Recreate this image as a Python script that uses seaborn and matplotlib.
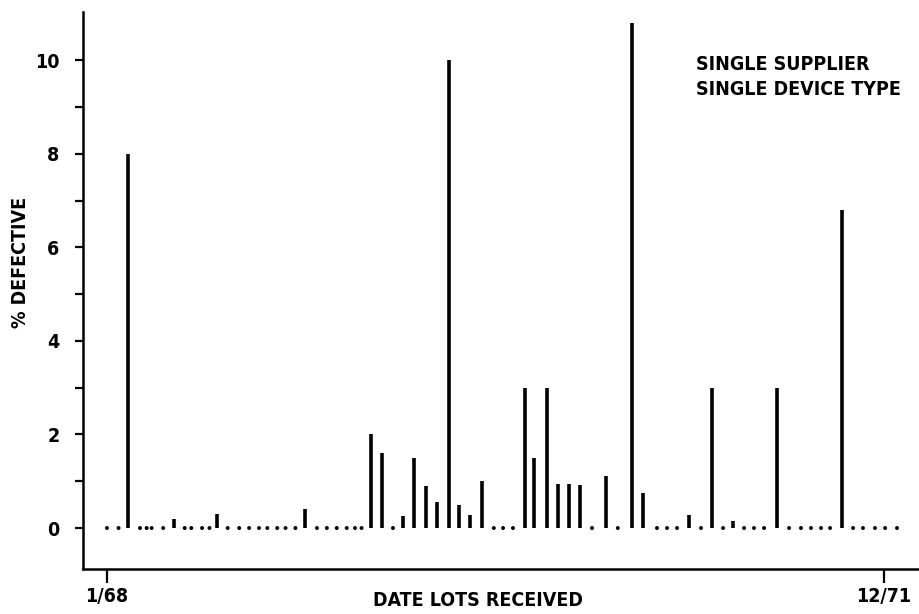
import matplotlib
matplotlib.use("Agg")
import matplotlib.pyplot as plt
import numpy as np
import pandas as pd
import seaborn as sns

# Receipt time of each lot, in months after January 1968
lot_month = [
    0.0, 0.7, 1.3, 2.0, 2.4, 2.7, 3.4, 4.05, 4.7, 5.1, 5.75, 6.2, 6.65, 7.3,
    8.0, 8.6, 9.2, 9.7, 10.3, 10.8, 11.4, 12.0, 12.7, 13.3, 13.9, 14.5, 15.0,
    15.4, 15.97, 16.64, 17.3, 17.91, 18.57, 19.3, 19.96, 20.69, 21.29, 21.96,
    22.69, 23.4, 23.96, 24.56, 25.29, 25.83, 26.62, 27.28, 27.95, 28.61, 29.34,
    30.19, 30.9, 31.76, 32.43, 33.27, 33.88, 34.48, 35.21, 35.93, 36.6, 37.27,
    37.87, 38.54, 39.14, 39.75, 40.53, 41.26, 41.98, 42.59, 43.19, 43.74,
    44.46, 45.13, 45.73, 46.46, 47.07, 47.79,
]
# Percent defective found in each lot
pct_defective = [
    0, 0, 8.0, 0, 0, 0, 0, 0.2, 0, 0, 0, 0, 0.3, 0,
    0, 0, 0, 0, 0, 0, 0, 0.4, 0, 0, 0, 0, 0,
    0, 2.0, 1.6, 0, 0.25, 1.5, 0.9, 0.55, 10.0, 0.5, 0.28,
    1.0, 0, 0, 0, 3.0, 1.5, 3.0, 0.95, 0.95, 0.92, 0,
    1.12, 0, 10.8, 0.75, 0, 0, 0, 0.27, 0, 3.0, 0,
    0.15, 0, 0, 0, 3.0, 0, 0, 0, 0, 0,
    6.8, 0, 0, 0, 0, 0,
]
y_ticks = [0, 2, 4, 6, 8, 10]
y_minor = [1, 3, 5, 7, 9]
x_tick_pos = [0, 47]
x_tick_labels = ["1/68", "12/71"]

sns.set_theme(style="ticks")
plt.rcParams["font.family"] = ["DejaVu Sans"]
plt.rcParams["font.stretch"] = "condensed"
plt.rcParams["text.color"] = "black"
plt.rcParams["axes.labelcolor"] = "black"
plt.rcParams["xtick.color"] = "black"
plt.rcParams["ytick.color"] = "black"

lots = pd.DataFrame({"month": lot_month, "pct": pct_defective})
bad = lots[lots["pct"] > 0]
clean = lots[lots["pct"] == 0]

fig = plt.figure(figsize=(9.19, 6.14), dpi=100)
ax = fig.add_axes([83 / 919, 45 / 614, 836 / 919, 557 / 614])

# defective lots as spikes, clean lots as dots on the zero line
ax.vlines(bad["month"], 0, bad["pct"], color="black", linewidth=2.6)
sns.scatterplot(data=clean, x="month", y="pct", ax=ax, color="black",
                s=8, marker="o", edgecolor="none", legend=False)

ax.set_xlim(-1.45, 49.12)
ax.set_ylim(-0.876, 11.03)

for side in ("top", "right"):
    ax.spines[side].set_visible(False)
for side in ("left", "bottom"):
    ax.spines[side].set_linewidth(1.8)
    ax.spines[side].set_color("black")

lab_font = dict(fontsize=14, fontweight="bold", fontstretch="condensed")

ax.set_yticks(y_ticks)
ax.set_yticks(y_minor, minor=True)
ax.set_yticklabels([str(v) for v in y_ticks], **lab_font)
ax.tick_params(axis="y", which="both", direction="out", length=6, width=1.6,
               color="black", pad=11)
ax.set_xticks(x_tick_pos)
ax.set_xticklabels(x_tick_labels, **lab_font)
ax.tick_params(axis="x", direction="out", length=10, width=1.6,
               color="black", pad=3)

ax.set_xlabel("DATE LOTS RECEIVED", **lab_font)
ax.xaxis.set_label_coords(0.4725, -0.056)
ax.xaxis.label.set_va("center")
ax.set_ylabel("% DEFECTIVE", **lab_font)
ax.yaxis.set_label_coords(-0.075, 0.551)
ax.yaxis.label.set_va("center")

ax.text(0.733, 0.923, "SINGLE SUPPLIER\nSINGLE DEVICE TYPE",
        transform=ax.transAxes, ha="left", va="top", fontsize=14,
        fontweight="bold", fontstretch="condensed", linespacing=1.42)

fig.savefig("out.png", dpi=100)
